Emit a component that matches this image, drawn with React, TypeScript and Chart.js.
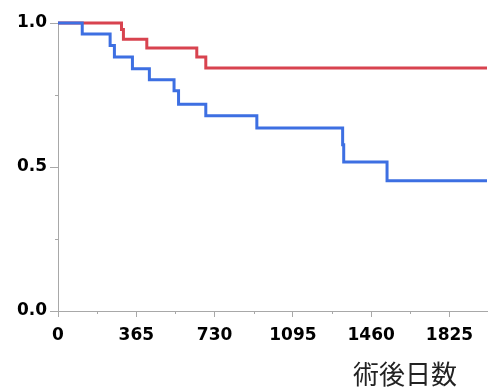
import React, { useEffect, useRef } from "react";
import { Chart, registerables } from "chart.js";

Chart.register(...registerables);

// Kaplan-Meier survival, group A (blue)
const blueDays = [0, 113, 243, 263, 347, 426, 541, 562, 689, 927, 1327, 1332, 1534, 2000];
const blueSurv = [1.0, 0.962, 0.922, 0.882, 0.841, 0.803, 0.765, 0.718, 0.678, 0.635, 0.577, 0.517, 0.452, 0.452];

// Kaplan-Meier survival, group B (red)
const redDays = [0, 296, 305, 414, 647, 689, 2000];
const redSurv = [1.0, 0.977, 0.944, 0.913, 0.882, 0.844, 0.844];

const xMajorTicks = [0, 365, 730, 1095, 1460, 1825];
const xMinorTicks = [182.5, 547.5, 912.5, 1277.5, 1642.5];
const yMajorTicks = [0, 0.5, 1.0];
const yMinorTicks = [0.25, 0.75];
const yTickLabels = ["0.0", "0.5", "1.0"];
const xTitle = "術後日数";

const BLUE = "#3d6fe2";
const RED = "#d8434f";
const AXIS = "#a8a8a8";
const TICK_FONT = { family: "'DejaVu Sans', Verdana, sans-serif", size: 17, weight: "bold" as const };

const extrasPlugin = {
  id: "extras",
  afterDraw(chart: any) {
    const ctx = chart.ctx;
    const xs = chart.scales.x;
    const ys = chart.scales.y;
    ctx.save();
    ctx.strokeStyle = AXIS;
    ctx.lineWidth = 1;
    ctx.beginPath();
    xMinorTicks.forEach((v) => {
      const px = Math.round(xs.getPixelForValue(v)) + 0.5;
      ctx.moveTo(px, xs.top);
      ctx.lineTo(px, xs.top + 3);
    });
    yMinorTicks.forEach((v) => {
      const py = Math.round(ys.getPixelForValue(v)) + 0.5;
      ctx.moveTo(ys.right, py);
      ctx.lineTo(ys.right - 3, py);
    });
    ctx.stroke();
    ctx.fillStyle = "#222";
    ctx.font = "26px 'Noto Sans CJK JP', sans-serif";
    ctx.textAlign = "right";
    ctx.textBaseline = "middle";
    ctx.fillText(xTitle, chart.chartArea.right - 30, 374);
    ctx.restore();
  },
};

export default function App() {
  const ref = useRef<HTMLCanvasElement | null>(null);
  useEffect(() => {
    if (!ref.current) return;
    const chart = new Chart(ref.current, {
      type: "line",
      data: {
        datasets: [
          {
            label: "blue",
            data: blueDays.map((d, i) => ({ x: d, y: blueSurv[i] })),
            borderColor: BLUE,
            borderWidth: 3,
            stepped: "before",
            pointRadius: 0,
            fill: false,
            clip: false,
          },
          {
            label: "red",
            data: redDays.map((d, i) => ({ x: d, y: redSurv[i] })),
            borderColor: RED,
            borderWidth: 3,
            stepped: "before",
            pointRadius: 0,
            fill: false,
            clip: false,
          },
        ],
      },
      options: {
        animation: false,
        responsive: false,
        layout: { padding: { top: 23, right: 12, left: 0, bottom: 0 } },
        plugins: { legend: { display: false }, tooltip: { enabled: false } },
        scales: {
          x: {
            type: "linear",
            min: 0,
            max: 2000,
            afterBuildTicks: (s: any) => {
              s.ticks = xMajorTicks.map((v) => ({ value: v }));
            },
            afterFit: (s: any) => {
              s.height = 76;
            },
            ticks: {
              autoSkip: false,
              maxRotation: 0,
              padding: 8,
              color: "#000",
              font: TICK_FONT,
              callback: (v: any) => String(v),
            },
            grid: { drawOnChartArea: false, drawTicks: true, tickLength: 6, color: AXIS },
            border: { display: true, color: AXIS, width: 1 },
          },
          y: {
            type: "linear",
            min: 0,
            max: 1,
            afterBuildTicks: (s: any) => {
              s.ticks = yMajorTicks.map((v) => ({ value: v }));
            },
            afterFit: (s: any) => {
              s.width = 58;
            },
            ticks: {
              autoSkip: false,
              padding: 3,
              color: "#000",
              font: TICK_FONT,
              callback: (v: any) => yTickLabels[yMajorTicks.indexOf(Number(v))] ?? "",
            },
            grid: { drawOnChartArea: false, drawTicks: true, tickLength: 8, color: AXIS },
            border: { display: true, color: AXIS, width: 1 },
          },
        },
      },
      plugins: [extrasPlugin],
    } as any);
    return () => chart.destroy();
  }, []);
  return (
    <div style={{ position: "absolute", left: 0, top: 0, width: 499, height: 387, background: "#fff" }}>
      <canvas ref={ref} width={499} height={387} />
    </div>
  );
}
